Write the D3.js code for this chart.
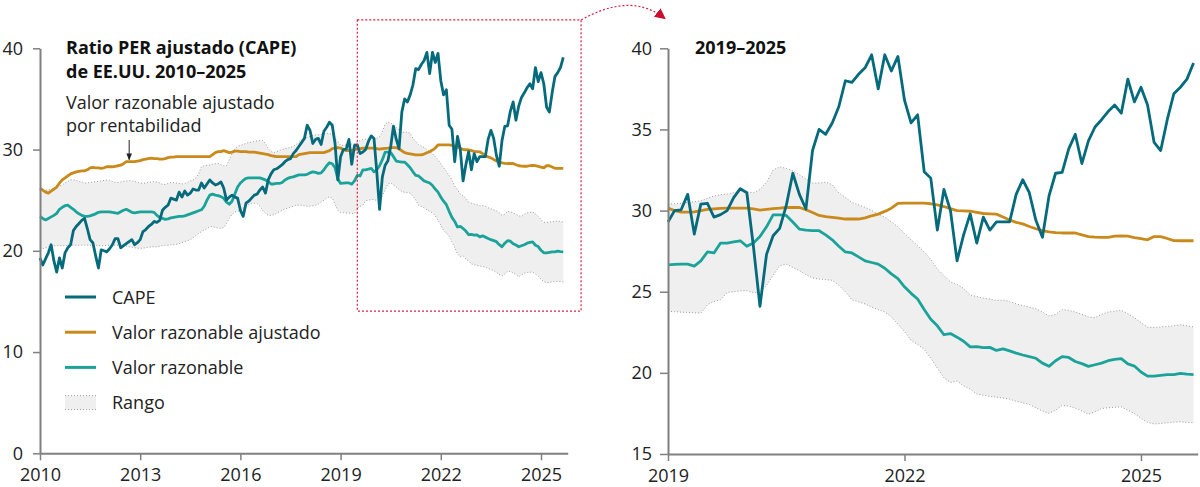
<!DOCTYPE html>
<html>
<head>
<meta charset="utf-8">
<script src="https://cdn.jsdelivr.net/npm/d3@7"></script>
<style>
  body { margin: 0; background: #fff; }
  text { font-family: "Open Sans", sans-serif; }
</style>
</head>
<body>
<svg id="chart" width="1200" height="487"></svg>
<script>
// monthly data, first value = January 2010
const startYear = 2010;

const capeTo2018 = [
  19.3, 18.6, 19.2, 19.8, 20.6, 19.0, 17.9, 19.3, 18.3, 19.8, 20.3, 20.6,
  22.0, 22.4, 22.7, 23.0, 23.2, 22.2, 21.1, 20.8, 19.5, 18.3, 20.1, 20.0,
  19.9, 20.2, 20.6, 21.2, 21.2, 20.3, 20.5, 20.7, 20.9, 21.1, 20.6, 20.8,
  21.1, 21.9, 22.1, 22.4, 22.6, 22.9, 22.8, 23.0, 24.0, 24.3, 24.5, 25.2,
  25.1, 25.0, 25.8, 25.3, 25.9, 25.5, 25.7, 26.1, 26.0, 26.0, 26.7, 26.2,
  26.6, 27.0, 26.7, 26.5, 26.6, 26.8, 26.2, 25.0, 25.3, 25.5, 25.3, 25.2,
  24.0, 23.4, 24.7, 24.9, 25.2, 25.5, 25.6, 26.0, 26.3, 25.7, 27.0, 27.6,
  28.0, 28.1, 28.3, 28.5, 28.8, 29.0, 29.1, 29.6, 29.9, 30.3, 30.7, 31.1,
  32.4, 31.9, 30.6, 31.0, 31.1, 30.5, 31.8, 32.2, 32.7, 32.4, 30.6, 27.0
];
const capeFrom2019 = [
  29.3, 30.0, 30.05, 31.0, 28.55, 30.4, 30.45, 29.6, 29.75, 30.0, 30.8, 31.35,
  31.1, 27.8, 24.1, 27.3, 28.45, 28.9, 30.3, 32.3, 31.0, 30.1, 33.7, 35.0,
  34.7, 35.4, 36.4, 38.0, 37.9, 38.4, 38.8, 39.6, 37.5, 39.6, 38.6, 39.5,
  36.8, 35.4, 35.9, 32.4, 32.0, 28.8, 31.3, 30.0, 26.9, 28.5, 29.8, 28.0,
  29.6, 28.8, 29.3, 29.3, 29.3, 31.0, 31.9, 31.1, 29.4, 28.35, 30.9, 32.3,
  32.35, 33.8, 34.7, 32.9, 34.3, 35.15, 35.6, 36.1, 36.5, 36.0, 38.1, 36.7,
  37.6, 36.5, 34.2, 33.7, 35.6, 37.2, 37.6, 38.1, 39.1
];

// Valor razonable ajustado por rentabilidad
const adjTo2018 = [
  26.2, 26.0, 25.8, 25.7, 25.9, 26.1, 26.3, 26.7, 27.0, 27.2, 27.4, 27.6,
  27.7, 27.8, 27.85, 27.9, 27.9, 28.0, 28.2, 28.25, 28.2, 28.2, 28.15, 28.2,
  28.3, 28.3, 28.3, 28.35, 28.4, 28.45, 28.6, 28.8, 28.8, 28.8, 28.8, 28.85,
  28.9, 29.0, 29.05, 29.1, 29.15, 29.1, 29.1, 29.05, 29.05, 29.1, 29.2, 29.25,
  29.25, 29.3, 29.3, 29.3, 29.3, 29.3, 29.3, 29.3, 29.3, 29.3, 29.3, 29.3,
  29.3, 29.3, 29.5, 29.7, 29.8, 29.8, 29.9, 29.8, 29.7, 29.75, 29.85, 29.85,
  29.8, 29.8, 29.8, 29.75, 29.75, 29.75, 29.7, 29.65, 29.6, 29.55, 29.5, 29.4,
  29.35, 29.3, 29.3, 29.3, 29.3, 29.3, 29.3, 29.3, 29.3, 29.5, 29.55, 29.6,
  29.65, 29.7, 29.7, 29.7, 29.7, 29.7, 29.7, 29.8, 29.9, 30.1, 30.15, 30.2
];
const adjFrom2019 = [
  30.15, 30.0, 29.9, 29.9, 29.92, 30.0, 30.07, 30.1, 30.13, 30.15, 30.15, 30.15,
  30.15, 30.1, 30.03, 30.08, 30.12, 30.15, 30.19, 30.19, 30.19, 30.05, 29.88, 29.7,
  29.63, 29.58, 29.53, 29.48, 29.48, 29.48, 29.55, 29.68, 29.78, 29.95, 30.15, 30.45,
  30.46, 30.46, 30.46, 30.46, 30.42, 30.35, 30.25, 30.12, 30.0, 29.98, 29.96, 29.89,
  29.82, 29.8, 29.78, 29.6, 29.42, 29.27, 29.18, 29.02, 28.88, 28.76, 28.69, 28.64,
  28.62, 28.62, 28.62, 28.5, 28.4, 28.36, 28.35, 28.35, 28.42, 28.44, 28.42, 28.34,
  28.27, 28.2, 28.4, 28.4, 28.28, 28.15, 28.14, 28.14, 28.14
];

// Valor razonable
const fairTo2018 = [
  23.4, 23.2, 23.05, 23.2, 23.35, 23.5, 23.7, 24.1, 24.3, 24.45, 24.5, 24.3,
  24.1, 23.85, 23.65, 23.5, 23.4, 23.4, 23.45, 23.55, 23.65, 23.8, 23.85, 23.85,
  23.85, 23.85, 23.8, 23.75, 23.7, 23.85, 24.0, 24.1, 23.95, 23.8, 23.75, 23.8,
  23.85, 23.85, 23.85, 23.85, 23.85, 23.8, 23.5, 23.3, 23.2, 23.1, 23.15, 23.25,
  23.3, 23.35, 23.4, 23.4, 23.45, 23.55, 23.65, 23.75, 23.85, 23.95, 24.05, 24.4,
  25.0, 25.5, 25.6, 25.5, 25.45, 25.35, 25.2, 24.8, 24.6, 24.9, 25.6, 26.3,
  26.7, 26.95, 27.15, 27.2, 27.2, 27.2, 27.2, 27.2, 27.1, 27.0, 26.85, 26.6,
  26.6, 26.65, 26.65, 26.75, 27.0, 27.15, 27.25, 27.3, 27.4, 27.5, 27.5, 27.5,
  27.55, 27.7, 27.8, 27.75, 27.65, 27.7, 28.0, 28.4, 28.7, 28.6, 28.2, 27.1
];
const fairFrom2019 = [
  26.65, 26.68, 26.7, 26.7, 26.58, 26.9, 27.45, 27.39, 28.0, 28.0, 28.07, 28.14,
  27.8, 28.0, 28.4, 29.0, 29.74, 29.74, 29.7, 29.3, 28.86, 28.8, 28.76, 28.76,
  28.5, 28.2, 27.8, 27.45, 27.39, 27.15, 26.9, 26.8, 26.7, 26.45, 26.1, 25.8,
  25.3, 24.9, 24.55, 23.9, 23.3, 22.9, 22.35, 22.42, 22.2, 21.95, 21.6, 21.62,
  21.55, 21.57, 21.38, 21.48, 21.35, 21.22, 21.1, 21.0, 20.9, 20.6, 20.4, 20.75,
  21.0, 20.95, 20.7, 20.57, 20.4, 20.5, 20.6, 20.75, 20.83, 20.88, 20.55, 20.42,
  20.05, 19.8, 19.8, 19.85, 19.89, 19.89, 19.97, 19.92, 19.89
];

// Rango (upper / lower)
const highTo2018 = [
  25.9, 25.95, 26.0, 26.0, 26.1, 26.2, 26.3, 26.4, 26.5, 26.7, 26.85, 27.0,
  27.0, 26.95, 26.85, 26.8, 26.7, 26.7, 26.75, 26.8, 26.83, 26.85, 26.9, 26.95,
  27.0, 26.95, 26.85, 26.75, 26.75, 26.8, 26.85, 26.9, 26.93, 26.9, 26.85, 26.75,
  26.7, 26.67, 26.7, 26.75, 26.8, 26.83, 26.8, 26.7, 26.55, 26.55, 26.65, 26.74,
  26.74, 26.7, 26.65, 26.6, 26.65, 26.75, 26.9, 27.0, 27.16, 27.6, 28.31, 28.4,
  28.45, 28.47, 28.55, 28.6, 28.64, 28.5, 28.4, 28.4, 29.0, 29.6, 30.1, 30.3,
  30.4, 30.5, 30.6, 30.7, 30.75, 30.8, 30.85, 30.9, 30.9, 30.6, 30.1, 29.8,
  29.7, 29.8, 29.9, 30.0, 30.1, 30.15, 30.2, 30.35, 30.5, 30.7, 30.95, 31.1,
  31.2, 31.3, 31.4, 31.45, 31.45, 31.5, 31.55, 31.6, 31.6, 31.5, 31.1, 30.8
];
const highFrom2019 = [
  30.4, 30.42, 30.45, 30.5, 30.55, 30.6, 30.75, 30.9, 30.98, 31.02, 31.1, 31.2,
  31.15, 31.1, 31.3, 31.75, 32.5, 32.7, 32.6, 32.45, 32.2, 31.95, 31.7, 31.7,
  31.75, 31.6, 31.1, 30.8, 30.5, 30.35, 30.2, 30.0, 29.8, 29.6, 29.3, 29.0,
  28.6, 28.2, 27.85, 27.45, 27.0, 26.4, 26.0, 25.6, 25.45, 25.2, 24.8, 24.7,
  24.6, 24.55, 24.46, 24.48, 24.4, 24.25, 24.15, 24.05, 23.95, 23.75, 23.5, 23.6,
  23.9, 23.85, 23.75, 23.6, 23.45, 23.4, 23.6, 23.75, 23.8, 23.85, 23.65, 23.4,
  23.1, 22.82, 22.8, 22.83, 22.86, 22.9, 22.96, 22.9, 22.83
];
const lowTo2018 = [
  20.1, 20.2, 20.3, 20.4, 20.5, 20.5, 20.5, 20.5, 20.5, 20.5, 20.55, 20.6,
  20.55, 20.55, 20.55, 20.55, 20.55, 20.55, 20.55, 20.55, 20.55, 20.5, 20.5, 20.5,
  20.55, 20.55, 20.55, 20.55, 20.55, 20.55, 20.55, 20.45, 20.4, 20.35, 20.3, 20.25,
  20.25, 20.25, 20.3, 20.35, 20.4, 20.4, 20.4, 20.45, 20.5, 20.55, 20.55, 20.6,
  20.6, 20.65, 20.7, 20.8, 20.9, 21.0, 21.1, 21.3, 21.5, 21.7, 21.9, 22.05,
  22.2, 22.35, 22.4, 22.3, 22.25, 22.2, 22.3, 22.7, 23.2, 23.6, 23.85, 23.9,
  24.0, 24.2, 24.4, 24.55, 24.65, 24.7, 24.65, 24.4, 24.0, 23.7, 23.5, 23.5,
  23.55, 23.7, 23.85, 24.0, 24.15, 24.2, 24.3, 24.4, 24.5, 24.5, 24.5, 24.45,
  24.4, 24.4, 24.45, 24.5, 24.6, 24.8, 25.0, 25.2, 25.35, 25.2, 24.6, 24.0
];
const lowFrom2019 = [
  23.8, 23.77, 23.74, 23.72, 23.7, 23.68, 24.2, 24.4, 24.5, 24.95, 25.0, 25.05,
  25.07, 24.95, 24.95, 25.4, 26.0, 26.6, 26.7, 26.5, 26.3, 26.05, 25.85, 25.78,
  25.75, 25.7, 25.4, 25.0, 24.5, 24.38, 24.25, 24.05, 23.9, 23.75, 23.45, 23.0,
  22.55, 22.0, 21.75, 21.45, 20.9, 20.3, 19.7, 19.4, 19.5, 19.2, 19.0, 18.7,
  18.62, 18.55, 18.5, 18.45, 18.38, 18.25, 18.15, 18.05, 17.85, 17.65, 17.5, 17.7,
  18.0, 17.95, 17.82, 17.65, 17.45, 17.6, 17.8, 17.85, 17.88, 17.9, 17.7, 17.5,
  17.2, 16.95, 16.85, 16.88, 16.92, 16.96, 16.98, 16.95, 16.92
];

// ticks
const yearTicks = [2010, 2013, 2016, 2019, 2022, 2025];
const zoomYearTicks = [2019, 2022, 2025];
const leftValueTicks = [0, 10, 20, 30, 40];
const rightValueTicks = [15, 20, 25, 30, 35, 40];

// zoom box on the left panel (years, values)
const boxYears = [2019.5, 2026.2];
const boxValues = [14.05, 42.8];

const cape = capeTo2018.concat(capeFrom2019);
const adj = adjTo2018.concat(adjFrom2019);
const fair = fairTo2018.concat(fairFrom2019);
const high = highTo2018.concat(highFrom2019);
const low = lowTo2018.concat(lowFrom2019);

const rows = cape.map((c, i) => ({
  date: startYear + i / 12,
  cape: c, adj: adj[i], fair: fair[i], high: high[i], low: low[i]
}));
const zoomRows = rows.filter(d => d.date >= 2019 - 1e-6);

const colors = { cape: "#056b7c", adj: "#c98a1b", fair: "#1ba39a", band: "#efefef", bandLine: "#9d9d9d", axis: "#808080" };
const font = "'Open Sans', sans-serif";

const svg = d3.select("#chart");

// scales
const xL = d3.scaleLinear().domain([2010, 2025.8]).range([40, 40 + 15.8 * 33.4]);
const yL = d3.scaleLinear().domain([0, 40]).range([453.3, 48.3]);
const xR = d3.scaleLinear().domain([2019, 2025.72]).range([668, 668 + 6.72 * 78.83]);
const yR = d3.scaleLinear().domain([15, 40]).range([454, 48.3]);

function drawPanel(g, x, y, data) {
  g.append("path").datum(data)
    .attr("d", d3.area().x(d => x(d.date)).y0(d => y(d.low)).y1(d => y(d.high)))
    .attr("fill", colors.band);
  ["low", "high"].forEach(k => {
    g.append("path").datum(data)
      .attr("d", d3.line().x(d => x(d.date)).y(d => y(d[k])))
      .attr("fill", "none").attr("stroke", colors.bandLine)
      .attr("stroke-width", 1).attr("stroke-dasharray", "1,2");
  });
  ["fair", "adj", "cape"].forEach(k => {
    g.append("path").datum(data)
      .attr("d", d3.line().x(d => x(d.date)).y(d => y(d[k])))
      .attr("fill", "none").attr("stroke", colors[k])
      .attr("stroke-width", 2.8).attr("stroke-linejoin", "round");
  });
}

function styleAxis(g) {
  g.select(".domain").attr("stroke", colors.axis).attr("stroke-width", 2);
  g.selectAll(".tick line").attr("stroke", colors.axis).attr("stroke-width", 1.5);
  g.selectAll(".tick text").attr("fill", "#222").attr("font-size", 18).attr("font-family", font);
}

// left panel
const left = svg.append("g");
drawPanel(left, xL, yL, rows);
left.append("g").attr("transform", "translate(40,0)")
  .call(d3.axisLeft(yL).tickValues(leftValueTicks).tickSize(7).tickPadding(10).tickSizeOuter(0))
  .call(styleAxis);
left.append("g").attr("transform", "translate(0,453.3)")
  .call(d3.axisBottom(xL).tickValues(yearTicks).tickFormat(d3.format("d")).tickSize(7).tickPadding(8).tickSizeOuter(0))
  .call(styleAxis);

// right panel
const right = svg.append("g");
drawPanel(right, xR, yR, zoomRows);
right.append("g").attr("transform", "translate(668,0)")
  .call(d3.axisLeft(yR).tickValues(rightValueTicks).tickSize(8).tickPadding(8).tickSizeOuter(0))
  .call(styleAxis);
right.append("g").attr("transform", "translate(0,454)")
  .call(d3.axisBottom(xR).tickValues(zoomYearTicks).tickFormat(d3.format("d")).tickSize(7).tickPadding(8).tickSizeOuter(0))
  .call(styleAxis);

// titles
const title = svg.append("text").attr("x", 66).attr("y", 54)
  .attr("font-size", 18).attr("font-weight", 700).attr("fill", "#111");
title.append("tspan").attr("x", 66).text("Ratio PER ajustado (CAPE)");
title.append("tspan").attr("x", 66).attr("dy", 23.5).text("de EE.UU. 2010–2025");

svg.append("text").attr("x", 695).attr("y", 54)
  .attr("font-size", 18).attr("font-weight", 700).attr("fill", "#111")
  .text("2019–2025");

// annotation
const note = svg.append("text").attr("x", 66).attr("y", 109)
  .attr("font-size", 18).attr("fill", "#222");
note.append("tspan").attr("x", 66).text("Valor razonable ajustado");
note.append("tspan").attr("x", 66).attr("dy", 23).text("por rentabilidad");

const defs = svg.append("defs");
defs.append("marker").attr("id", "tip").attr("viewBox", "0 0 10 10")
  .attr("refX", 9).attr("refY", 5).attr("markerWidth", 7).attr("markerHeight", 7)
  .attr("orient", "auto-start-reverse")
  .append("path").attr("d", "M0,1L10,5L0,9Z").attr("fill", "#222");
svg.append("line")
  .attr("x1", xL(2012.67)).attr("x2", xL(2012.67))
  .attr("y1", 140).attr("y2", yL(29.0))
  .attr("stroke", "#222").attr("stroke-width", 1).attr("marker-end", "url(#tip)");

// legend
const legendItems = [
  { label: "CAPE", key: "cape" },
  { label: "Valor razonable ajustado", key: "adj" },
  { label: "Valor razonable", key: "fair" },
  { label: "Rango", key: "band" }
];
const legend = svg.append("g").attr("transform", "translate(65,297)");
legendItems.forEach((it, i) => {
  const gy = i * 35.2;
  const row = legend.append("g").attr("transform", `translate(0,${gy})`);
  if (it.key === "band") {
    row.append("rect").attr("x", 0).attr("y", -7).attr("width", 31).attr("height", 14).attr("fill", colors.band);
    [-7, 7].forEach(dy => row.append("line").attr("x1", 0).attr("x2", 31).attr("y1", dy).attr("y2", dy)
      .attr("stroke", colors.bandLine).attr("stroke-width", 1).attr("stroke-dasharray", "1,2"));
  } else {
    row.append("line").attr("x1", 0).attr("x2", 31).attr("y1", 0).attr("y2", 0)
      .attr("stroke", colors[it.key]).attr("stroke-width", 3);
  }
  row.append("text").attr("x", 47).attr("y", 6.5).attr("font-size", 18).attr("fill", "#222").text(it.label);
});

// zoom box + arrow
const red = "#d4213f";
svg.append("rect")
  .attr("x", xL(boxYears[0])).attr("y", yL(boxValues[1]))
  .attr("width", xL(boxYears[1]) - xL(boxYears[0]))
  .attr("height", yL(boxValues[0]) - yL(boxValues[1]))
  .attr("fill", "none").attr("stroke", red).attr("stroke-width", 1.2).attr("stroke-dasharray", "2,2");
defs.append("marker").attr("id", "redtip").attr("viewBox", "0 0 10 10")
  .attr("refX", 8).attr("refY", 5).attr("markerUnits", "userSpaceOnUse")
  .attr("markerWidth", 11).attr("markerHeight", 11)
  .attr("orient", "auto")
  .append("path").attr("d", "M0,0L10,5L0,10Z").attr("fill", "#c8102e");
const bx = xL(boxYears[1]), by = yL(boxValues[1]);
svg.append("path")
  .attr("d", `M${bx},${by} Q${bx + 50},${by - 28} ${bx + 83},${by - 2}`)
  .attr("fill", "none").attr("stroke", red).attr("stroke-width", 1.2).attr("stroke-dasharray", "2,2")
  .attr("marker-end", "url(#redtip)");
</script>
</body>
</html>
